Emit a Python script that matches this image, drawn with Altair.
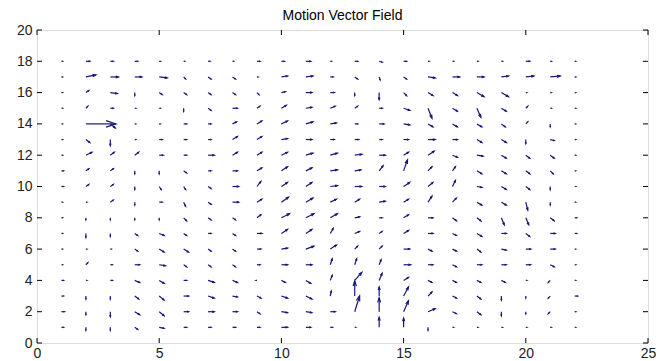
import math
import altair as alt
import pandas as pd

TITLE = "Motion Vector Field"
X_COLS = list(range(1, 23))
Y_ROWS = list(range(18, 0, -1))
X_TICKS = [0, 5, 10, 15, 20, 25]
Y_TICKS = list(range(0, 21, 2))

# horizontal components (data units), one row per y from 18 down to 1
U = [
    [.04, .16, .12, .12, .04, .04, .08, .04, .12, .12, .2, .04, .12, .12, .12, .04, .04, .04, .04, .16, .04, .04],
    [.04, .41, .33, .29, .33, .08, .12, .12, .04, .25, .29, .12, .12, .04, .12, .29, .29, .29, .29, .33, .41, .04],
    [.04, .12, .29, 0, .12, .12, .12, .12, .08, .16, .25, .16, 0, 0, .12, .2, .2, .29, .29, .04, .04, .04],
    [.04, .08, .12, .04, .04, 0, .12, .2, .12, .2, .25, .2, .12, .12, .25, .16, .2, .16, .2, .08, .04, .04],
    [.04, 1.23, .2, .04, .04, .12, .12, .16, .2, .25, .29, .25, .12, .2, .25, .2, .2, .2, .16, .08, 0, .04],
    [.04, .16, 0, .04, .12, .12, .12, .2, .2, .25, .25, .16, .16, .12, .2, .29, .2, .2, .2, 0, .16, .04],
    [.04, .25, .16, .16, .16, .12, .25, .2, .2, .25, .29, .29, .29, .25, .2, .25, .2, .25, .2, .16, .16, .04],
    [.08, .12, .12, 0, 0, .12, .12, .2, .2, .25, .25, .29, .25, .16, .16, .16, .12, .2, .2, .16, .12, .04],
    [.08, .12, .12, 0, .08, .08, .12, .25, .16, .25, .25, .29, .29, .25, .25, .2, .12, .2, .2, .16, 0, .04],
    [.04, .04, .12, 0, .12, .08, .12, .25, .2, .29, .29, .25, .2, .25, .2, .16, .16, .2, .2, .08, 0, .04],
    [.04, 0, 0, 0, 0, .12, .12, .12, .16, .33, .33, .29, .2, .12, .2, .2, .16, .16, .12, .12, .16, .08],
    [.04, 0, 0, .12, .2, .12, .12, .12, .2, .25, .25, .12, .2, .12, .2, .2, .16, .2, .2, .16, .2, .08],
    [.04, .04, .04, .12, .2, .2, .12, .12, .16, .25, .33, .25, .12, .12, .25, .16, .16, .16, .2, .2, .2, .04],
    [.04, .08, .08, .2, .25, .12, .12, .12, .12, .25, .25, .08, .08, .08, .29, .2, .16, .2, .2, .2, .16, .04],
    [.08, .04, .08, .2, .2, .12, .25, .2, -.04, .16, .2, .08, .29, .12, .2, .16, .16, .16, .16, .04, -.08, .04],
    [.08, 0, 0, .16, .2, .2, .25, .2, .16, .25, .25, .04, 0, 0, .2, .16, .16, .16, 0, 0, -.08, .12],
    [.12, 0, 0, .2, .2, .2, .25, .2, .12, .25, .25, .2, .2, 0, .2, .29, .16, .16, 0, 0, -.08, .04],
    [.08, 0, 0, .12, .2, .12, .12, .12, .12, .25, .2, .08, .04, 0, 0, 0, .04, .04, .04, .04, .04, .04],
]

# vertical components (data units), same layout
V = [
    [0, 0, 0, 0, 0, 0, 0, 0, 0, 0, 0, 0, 0, -.06, 0, 0, 0, 0, 0, 0, 0, 0],
    [0, .13, 0, 0, -.06, -.13, -.13, -.13, 0, .06, .06, 0, -.13, -.19, -.13, -.06, 0, 0, .06, .06, .06, 0],
    [0, .13, -.06, -.19, -.13, -.13, -.13, -.13, -.13, .06, 0, 0, -.19, -.45, -.19, -.19, -.19, -.26, -.26, 0, 0, 0],
    [0, .13, 0, 0, 0, -.19, -.13, 0, .13, .19, .06, .13, .13, 0, -.13, -.64, -.19, -.58, -.19, .13, 0, 0],
    [0, 0, -.26, 0, 0, 0, 0, .13, .19, .19, .13, .06, 0, 0, -.06, -.19, -.19, -.19, -.19, .13, -.19, 0],
    [0, -.19, -.38, 0, 0, 0, 0, .19, .19, .06, 0, 0, 0, 0, 0, 0, 0, -.19, -.19, -.26, -.06, 0],
    [0, .19, .19, .19, 0, 0, 0, .19, .19, .19, .13, .13, .06, 0, .19, .26, -.13, -.06, -.19, -.19, -.19, 0],
    [0, .13, .13, -.19, -.19, -.13, 0, 0, .19, .26, .19, .06, .06, .32, .7, .26, .26, -.19, -.19, -.19, -.19, 0],
    [0, .13, .13, -.19, -.19, -.19, -.13, 0, .32, .26, .26, .06, 0, 0, .26, .26, .38, -.06, -.19, -.19, -.19, 0],
    [0, 0, .13, -.19, 0, -.26, -.13, 0, .19, .32, .26, .19, .19, .06, .19, .38, .26, -.19, -.19, -.51, -.19, 0],
    [0, -.13, -.13, -.13, -.13, -.19, -.13, -.13, .19, .26, .26, .26, .06, 0, .19, 0, -.19, -.19, -.45, -.45, -.19, 0],
    [0, -.26, -.19, -.13, -.13, -.13, 0, -.13, 0, .26, .26, .32, .13, .13, .19, 0, -.13, -.19, 0, -.19, 0, 0],
    [0, 0, 0, -.13, -.19, -.19, -.13, -.13, 0, .06, .19, .26, .19, .19, 0, -.13, -.13, -.19, -.06, 0, 0, 0],
    [0, .13, 0, 0, -.06, -.13, -.13, -.13, 0, 0, 0, .38, .38, .32, 0, 0, -.13, 0, 0, 0, -.13, 0],
    [0, 0, 0, -.13, -.19, 0, -.13, -.13, 0, -.13, -.19, .32, .51, .45, .19, -.13, -.13, -.13, -.13, 0, -.13, 0],
    [0, -.19, -.19, -.19, -.26, 0, -.13, -.06, -.13, -.13, -.19, .32, .96, .58, .58, .26, -.13, -.19, -.26, -.13, -.13, 0],
    [0, -.19, -.32, -.19, -.26, 0, 0, 0, -.13, -.06, -.06, 0, 1.02, .89, .7, .19, -.13, -.19, -.26, -.13, -.13, 0],
    [0, -.19, -.19, -.13, -.06, 0, 0, 0, 0, 0, 0, 0, 0, .64, .58, -.19, 0, 0, 0, 0, 0, 0],
]

W, H = 611, 313
X_DOM, Y_DOM = [0, 25], [0, 20]
SX = W / (X_DOM[1] - X_DOM[0])
SY = H / (Y_DOM[1] - Y_DOM[0])
COLOR = "#161678"
FONT = "Liberation Sans"

recs = []
for r, yv in enumerate(Y_ROWS):
    for c, xv in enumerate(X_COLS):
        u, v = U[r][c], V[r][c]
        lp = math.hypot(u * SX, v * SY)
        ang = math.degrees(math.atan2(u * SX, v * SY)) % 360
        recs.append(dict(x=xv, y=yv, xe=xv + u, ye=yv + v, ang=ang,
                         hs=4 * (0.33 * lp) ** 2))
df = pd.DataFrame(recs)

xs = alt.Scale(domain=X_DOM, nice=False, zero=False)
ys = alt.Scale(domain=Y_DOM, nice=False, zero=False)
xax = alt.Axis(values=X_TICKS, ticks=False, domain=False, grid=False,
               labelFontSize=14, labelFont=FONT, labelColor="#222222",
               labelPadding=3, title=None, labelFlush=False)
yax = alt.Axis(values=Y_TICKS, ticks=False, domain=False, grid=False,
               labelFontSize=14, labelFont=FONT, labelColor="#222222",
               labelPadding=5, title=None)

shafts = alt.Chart(df).mark_rule(color=COLOR, strokeWidth=1.2).encode(
    x=alt.X("x:Q", scale=xs, axis=xax),
    y=alt.Y("y:Q", scale=ys, axis=yax),
    x2="xe:Q", y2="ye:Q",
)
heads = alt.Chart(df).mark_point(
    shape="M-0.33,1L0,0L0.33,1", filled=False, color=COLOR,
    strokeWidth=1.2, opacity=1,
).encode(
    x=alt.X("xe:Q", scale=xs, axis=xax),
    y=alt.Y("ye:Q", scale=ys, axis=yax),
    angle=alt.Angle("ang:Q", scale=None),
    size=alt.Size("hs:Q", scale=None, legend=None),
)

xt = pd.DataFrame({"t": X_TICKS})
yt = pd.DataFrame({"t": Y_TICKS})
tb = alt.Chart(xt).mark_rule(color="black").encode(
    x=alt.X("t:Q", scale=xs, axis=xax), y=alt.value(H), y2=alt.value(H - 5))
tt = alt.Chart(xt).mark_rule(color="black").encode(
    x=alt.X("t:Q", scale=xs, axis=xax), y=alt.value(0), y2=alt.value(5))
tl = alt.Chart(yt).mark_rule(color="black").encode(
    y=alt.Y("t:Q", scale=ys, axis=yax), x=alt.value(0), x2=alt.value(5))
tr = alt.Chart(yt).mark_rule(color="black").encode(
    y=alt.Y("t:Q", scale=ys, axis=yax), x=alt.value(W), x2=alt.value(W - 5))

chart = alt.layer(shafts, heads, tb, tt, tl, tr).properties(
    width=W, height=H,
    title=alt.TitleParams(TITLE, fontSize=14, fontWeight="normal", font=FONT,
                          color="black", offset=0, frame="group"),
    autosize=alt.AutoSizeParams(type="none"),
    padding={"left": 29, "top": 22, "right": 8, "bottom": 16},
).configure_view(stroke="black", strokeWidth=1).configure(background="white")

chart.save("out.html", embed_options={"renderer": "svg", "actions": False})
